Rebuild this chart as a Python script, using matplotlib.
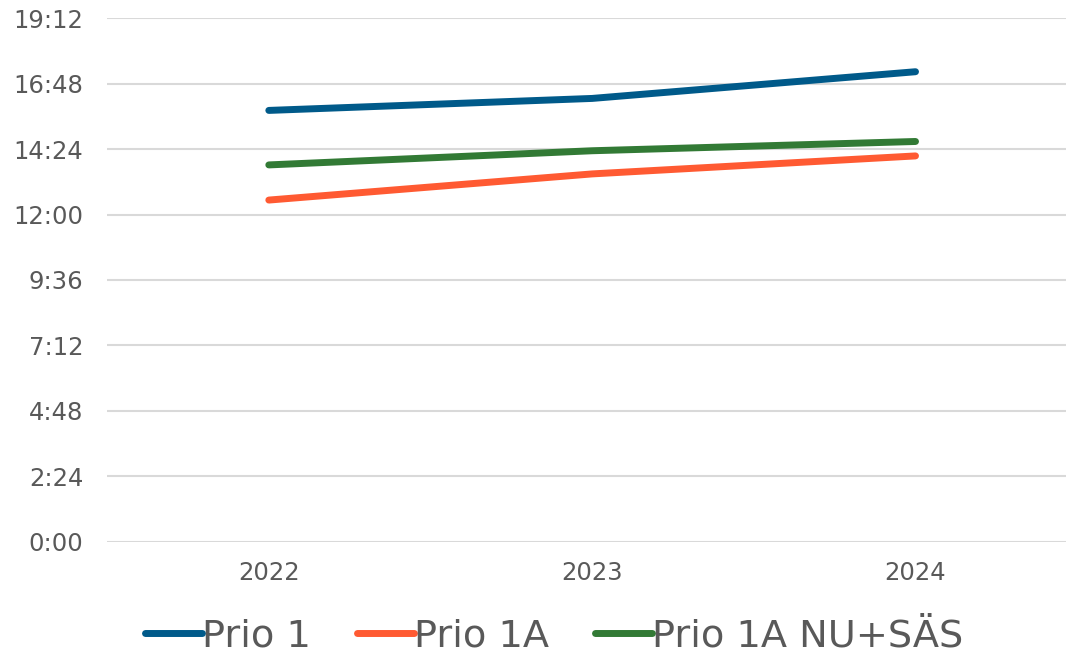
import matplotlib
matplotlib.use("Agg")
import matplotlib.pyplot as plt
from matplotlib.ticker import FuncFormatter, MultipleLocator

years = ["2022", "2023", "2024"]
# values in minutes (shown as m:ss)
prio1 = [15.82, 16.26, 17.24]
prio1a = [12.53, 13.49, 14.15]
prio1a_nu = [13.82, 14.34, 14.68]
series_names = ["Prio 1", "Prio 1A", "Prio 1A NU+SÄS"]
colors = ["#005A8A", "#FF5A32", "#327A35"]


def fmt_time(v, pos):
    secs = int(round(v * 60))
    return "%d:%02d" % (secs // 60, secs % 60)


fig = plt.figure(figsize=(10.66, 6.54), dpi=100)
ax = fig.add_axes([0.1005, 0.172, 0.91, 0.80])

x = [i + 0.5 for i in range(len(years))]
for vals, name, c in zip([prio1, prio1a, prio1a_nu], series_names, colors):
    ax.plot(x, vals, color=c, lw=5, solid_capstyle="round", label=name)

ax.set_xlim(0, 3)
ax.set_ylim(0, 19.2)
ax.yaxis.set_major_locator(MultipleLocator(2.4))
ax.yaxis.set_major_formatter(FuncFormatter(fmt_time))
ax.set_xticks(x)
ax.set_xticklabels(years)
ax.grid(axis="y", color="#D9D9D9", lw=1.5)
ax.set_axisbelow(True)
for s in ax.spines.values():
    s.set_visible(False)
ax.tick_params(length=0, labelsize=17.5, colors="#595959")
ax.tick_params(axis="x", pad=14)
ax.tick_params(axis="y", pad=17)

leg = fig.legend(loc="lower center", bbox_to_anchor=(0.52, -0.053), ncol=3,
                 frameon=False, fontsize=27.5, handlelength=1.5, handletextpad=0.0,
                 columnspacing=1.2)
for t in leg.get_texts():
    t.set_color("#595959")
for h in leg.get_lines():
    h.set_linewidth(5)
    h.set_solid_capstyle("round")

fig.savefig("out.png", dpi=100)
